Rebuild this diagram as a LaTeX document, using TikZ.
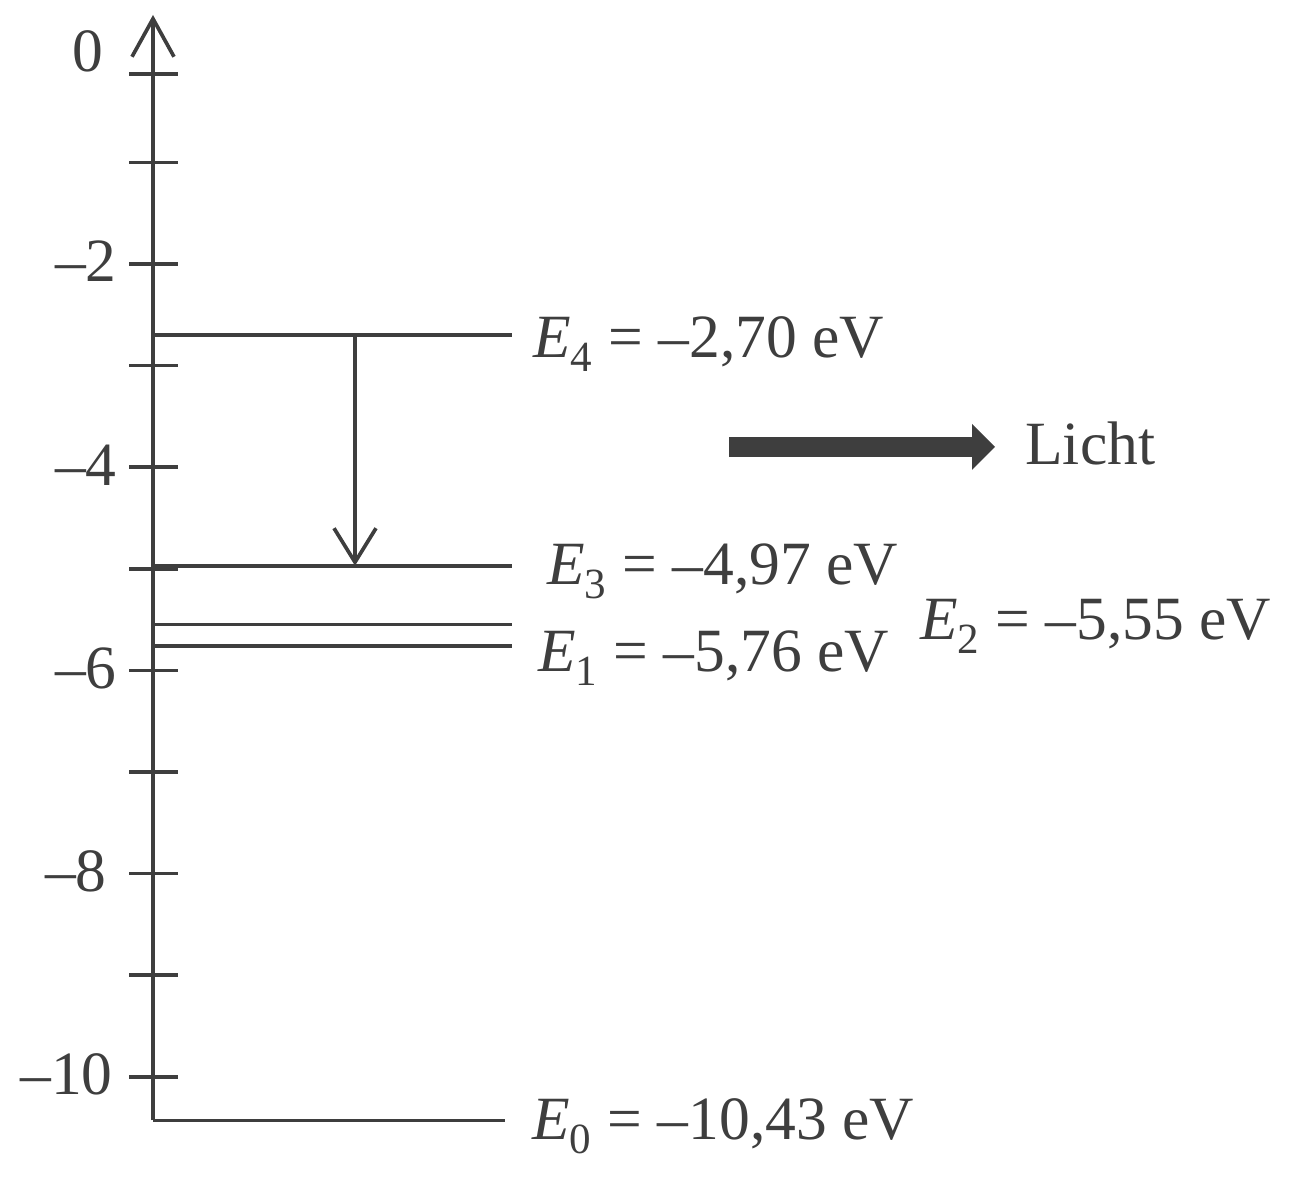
\documentclass[tikz,border=0pt]{standalone}
\usepackage{fontspec}
\setmainfont{Liberation Serif}
\usepackage{tikz}
\usetikzlibrary{arrows.meta}
\usetikzlibrary{positioning}
\usetikzlibrary{math}
\definecolor{ink}{RGB}{62,62,62}
\tikzstyle{level} = [draw=ink, line width=2.1pt]
\tikzstyle{lbl} = [inner sep=0pt, anchor=base west, text=ink]
\tikzstyle{ticklbl} = [inner sep=0pt, anchor=base east, text=ink]
\tikzstyle{axisarrow} = [-{Straight Barb[length=0.76cm, width=0.84cm]}, draw=ink, line width=2.1pt]
\tikzstyle{jumparrow} = [-{Straight Barb[length=0.68cm, width=0.84cm]}, draw=ink, line width=2.1pt]
\tikzstyle{lightarrow} = [-{Triangle[length=0.46cm, width=0.92cm, line width=0pt]}, draw=ink, fill=ink, line width=0.4cm]

\begin{document}
\begin{tikzpicture}[x=1cm, y=2.032cm, font=\fontsize{35pt}{42pt}\selectfont]

  \tikzmath{\lend = 7.18; \xjump = 4.04; \tl = -0.48; \tr = 0.5;}

  \useasboundingbox (-3.06,0.598) rectangle (23.1,-11.232);

  % axis
  \coordinate (top) at (0,0.451);
  \coordinate (L0) at (0,-10.43);
  \draw[axisarrow] (L0) -- (top);

  \draw[level] (\tl,-0.13) -- (\tr,-0.13);
  \foreach \k in {1,...,10} {
    \draw[level] (\tl,-\k) -- (\tr,-\k);
  }

  \node[ticklbl] (t0) at (-0.98,-0.110) {0};
  \foreach \k/\xl in {2/-0.72, 4/-0.72, 6/-0.72, 8/-0.92, 10/-0.80} {
    \node[ticklbl] (t\k) at (\xl,-\k-0.177) {–\k};
  }

  % levels
  \foreach \n/\e in {4/-2.70, 3/-4.97, 2/-5.55, 1/-5.76} {
    \draw[level] (0,\e) coordinate (L\n) -- (\lend,\e) coordinate (R\n);
  }
  \draw[level] (L0) -- (7.04,-10.43) coordinate (R0);

  \node[lbl] (lE4) at (7.60,-2.925) {\textit{E}\textsubscript{4} = –2,70 eV};
  \node[lbl] (lE3) at (7.88,-5.159) {\textit{E}\textsubscript{3} = –4,97 eV};
  \node[lbl] (lE2) at (15.34,-5.701) {\textit{E}\textsubscript{2} = –5,55 eV};
  \node[lbl] (lE1) at (7.70,-6.016) {\textit{E}\textsubscript{1} = –5,76 eV};
  \node[lbl] (lE0) at (7.58,-10.622) {\textit{E}\textsubscript{0} = –10,43 eV};

  % transition
  \coordinate (jump4) at (\xjump,-2.70);
  \coordinate (jump3) at (\xjump,-4.97);
  \draw[jumparrow] (jump4) -- (jump3);

  % light
  \node[lbl] (licht) at (17.44,-3.978) {Licht};
  \coordinate (lightstart) at (11.52,-3.80);
  \draw[lightarrow, shorten >=0.6cm] (lightstart) -- (lightstart -| licht.west);

\end{tikzpicture}
\end{document}
